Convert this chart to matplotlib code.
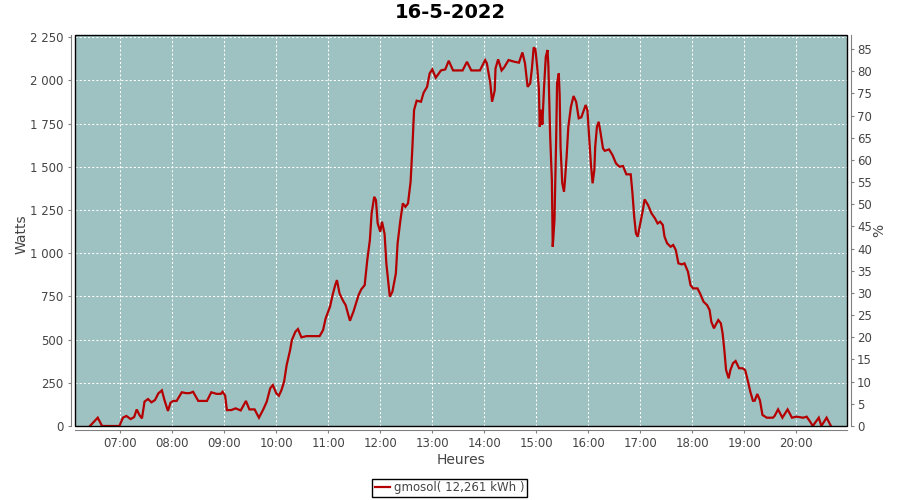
"""
Production solaire du 16-5-2022 (gmosol) — courbe Watts / % sur la journée
"""
import matplotlib
matplotlib.use('Agg')
import matplotlib.pyplot as plt
import matplotlib.patches as mpatches
from matplotlib.ticker import FixedLocator, FuncFormatter

plt.rcParams['font.family'] = ['DejaVu Sans']

BG     = '#9EC2C2'
RED    = '#B40000'
AXIS   = '#808080'
TXT    = '#444444'

# ── données (heure, puissance W) ─────────────────────────────
times = [
    '06:25', '06:34', '06:39', '06:59', '07:03', '07:07', '07:12', '07:16',
    '07:19', '07:22', '07:25', '07:28', '07:32', '07:36', '07:40', '07:44',
    '07:48', '07:51', '07:55', '07:58', '08:01', '08:05', '08:11', '08:16',
    '08:20', '08:24', '08:30', '08:40', '08:45', '08:51', '08:56', '08:58',
    '09:01', '09:03', '09:08', '09:13', '09:19', '09:25', '09:29', '09:35',
    '09:40', '09:45', '09:49', '09:53', '09:56', '10:00', '10:03', '10:06',
    '10:09', '10:12', '10:16', '10:18', '10:22', '10:25', '10:29', '10:35',
    '10:50', '10:54', '10:57', '11:02', '11:05', '11:08', '11:10', '11:13',
    '11:17', '11:20', '11:25', '11:29', '11:35', '11:38', '11:42', '11:45',
    '11:48', '11:50', '11:53', '11:55', '11:57', '12:00', '12:02', '12:05',
    '12:07', '12:11', '12:14', '12:18', '12:20', '12:23', '12:26', '12:29',
    '12:32', '12:35', '12:37', '12:39', '12:42', '12:47', '12:50', '12:54',
    '12:57', '13:00', '13:04', '13:10', '13:15', '13:19', '13:24', '13:35',
    '13:40', '13:45', '13:55', '14:01', '14:03', '14:07', '14:09', '14:12',
    '14:13', '14:16', '14:20', '14:23', '14:28', '14:35', '14:40', '14:44',
    '14:47', '14:50', '14:53', '14:55', '14:57', '14:59', '15:01', '15:03',
    '15:04', '15:06', '15:07', '15:09', '15:11', '15:13', '15:14', '15:16',
    '15:18', '15:19', '15:21', '15:23', '15:24', '15:26', '15:27', '15:28',
    '15:30', '15:32', '15:33', '15:35', '15:37', '15:40', '15:43', '15:46',
    '15:49', '15:52', '15:55', '15:57', '15:59', '16:01', '16:03', '16:05',
    '16:07', '16:08', '16:10', '16:12', '16:14', '16:17', '16:19', '16:24',
    '16:28', '16:32', '16:36', '16:40', '16:44', '16:49', '16:51', '16:53',
    '16:55', '16:57', '17:00', '17:03', '17:05', '17:09', '17:13', '17:17',
    '17:20', '17:23', '17:26', '17:28', '17:31', '17:35', '17:38', '17:41',
    '17:44', '17:48', '17:51', '17:55', '17:58', '18:01', '18:06', '18:09',
    '18:13', '18:17', '18:20', '18:22', '18:25', '18:27', '18:30', '18:33',
    '18:35', '18:37', '18:39', '18:42', '18:44', '18:47', '18:50', '18:54',
    '18:58', '19:01', '19:03', '19:07', '19:10', '19:12', '19:15', '19:18',
    '19:21', '19:26', '19:33', '19:35', '19:39', '19:44', '19:50', '19:55',
    '20:00', '20:08', '20:12', '20:16', '20:19', '20:26', '20:29', '20:35',
    '20:40',
]
watts = [
    0, 48, 0, 0, 48, 58, 40, 52,
    96, 64, 44, 141, 156, 137, 150, 189,
    206, 150, 87, 135, 145, 145, 195, 190,
    190, 198, 145, 145, 195, 186, 186, 198,
    176, 92, 92, 102, 90, 145, 96, 96,
    48, 96, 141, 218, 237, 189, 175, 208,
    256, 353, 440, 497, 545, 561, 513, 520,
    520, 555, 623, 690, 758, 815, 844, 767,
    725, 700, 609, 661, 758, 790, 815, 960,
    1076, 1230, 1326, 1307, 1172, 1124, 1182, 1110,
    941, 748, 777, 883, 1057, 1182, 1288, 1268,
    1288, 1413, 1606, 1828, 1882, 1876, 1928, 1962,
    2040, 2063, 2015, 2057, 2063, 2113, 2057, 2057,
    2107, 2057, 2057, 2117, 2098, 1982, 1876, 1940,
    2069, 2121, 2057, 2075, 2117, 2107, 2102, 2161,
    2098, 1962, 1982, 2069, 2190, 2180, 2080, 1953,
    1731, 1830, 1744, 1962, 2136, 2175, 2080, 1683,
    1423, 1037, 1191, 1673, 1982, 2040, 1913, 1615,
    1404, 1355, 1413, 1558, 1731, 1847, 1909, 1876,
    1780, 1786, 1828, 1857, 1828, 1673, 1519, 1404,
    1481, 1615, 1731, 1760, 1702, 1606, 1592, 1600,
    1567, 1519, 1500, 1504, 1456, 1456, 1346, 1211,
    1115, 1095, 1172, 1249, 1311, 1278, 1230, 1201,
    1172, 1182, 1163, 1095, 1057, 1037, 1047, 1018,
    941, 935, 941, 893, 815, 796, 796, 767,
    719, 700, 671, 603, 565, 585, 613, 594,
    536, 440, 324, 276, 324, 363, 376, 334,
    334, 324, 285, 198, 146, 146, 185, 150,
    64, 48, 48, 58, 96, 48, 96, 48,
    54, 48, 54, 25, 0, 48, 0, 48,
    0,
]

hour_ticks  = ['07:00', '08:00', '09:00', '10:00', '11:00', '12:00', '13:00',
               '14:00', '15:00', '16:00', '17:00', '18:00', '19:00', '20:00']
watt_ticks  = [0, 250, 500, 750, 1000, 1250, 1500, 1750, 2000, 2250]
pct_ticks   = list(range(0, 90, 5))
PEAK_W      = 2565          # puissance correspondant à 100 %
legend_txt  = 'gmosol( 12,261 kWh )'


def to_h(s):
    h, m = s.split(':')
    return int(h) + int(m) / 60


x = [to_h(t) for t in times]
xt = [to_h(t) for t in hour_ticks]

fig = plt.figure(figsize=(9, 5), dpi=100, facecolor='white')
ax = fig.add_axes([75.3 / 900, 1 - 426 / 500, 771.4 / 900, 391 / 500])
ax.set_facecolor(BG)

ax.plot(x, watts, color=RED, lw=1.6, zorder=3, solid_joinstyle='miter')

ax.set_xlim(6.135, 20.97)
ax.set_ylim(0, 2262)

# ── grille ───────────────────────────────────────────────────
ax.xaxis.set_major_locator(FixedLocator(xt))
ax.set_xticklabels(hour_ticks)
ax.yaxis.set_major_locator(FixedLocator(watt_ticks))
ax.yaxis.set_major_formatter(FuncFormatter(lambda v, p: f'{int(v):,}'.replace(',', ' ')))
ax.grid(True, color='white', lw=0.75, ls=(0, (2, 2)))
ax.set_axisbelow(True)

# ── axe droit (%) ────────────────────────────────────────────
ax2 = ax.twinx()
ax2.set_ylim(0, 2262 * 100 / PEAK_W)
ax2.yaxis.set_major_locator(FixedLocator(pct_ticks))

# ── spines décalés + cadre noir ──────────────────────────────
for a in (ax, ax2):
    for s in a.spines.values():
        s.set_visible(False)
for side in ('left', 'bottom'):
    ax.spines[side].set_visible(True)
    ax.spines[side].set_position(('outward', 3))
    ax.spines[side].set_color(AXIS)
ax2.spines['right'].set_visible(True)
ax2.spines['right'].set_position(('outward', 3))
ax2.spines['right'].set_color(AXIS)
ax.add_patch(mpatches.Rectangle((0, 0), 1, 1, transform=ax.transAxes, fill=False,
                                edgecolor='black', lw=1.0, zorder=5, clip_on=False))

ax.tick_params(axis='x', length=2, width=0.8, color=AXIS, labelsize=8.5,
               labelcolor=TXT, pad=3)
ax.tick_params(axis='y', length=2.5, width=0.8, color=AXIS, labelsize=8.5,
               labelcolor=TXT, pad=3)
ax2.tick_params(axis='y', length=2.5, width=0.8, color=AXIS, labelsize=8.5,
                labelcolor=TXT, pad=2)

# ── libellés ─────────────────────────────────────────────────
ax.set_xlabel('Heures', fontsize=10, color=TXT)
ax.xaxis.set_label_coords(0.5, -34 / 391)
ax.xaxis.label.set_va('center')
ax.set_ylabel('Watts', fontsize=10, color=TXT)
ax.yaxis.set_label_coords(-54 / 771.4, 0.49)
ax.yaxis.label.set_va('center')
ax2.set_ylabel('%', fontsize=10, color=TXT)
ax2.yaxis.set_label_coords(1 + 33 / 771.4, 0.5)
ax2.yaxis.label.set_va('center')

fig.suptitle('16-5-2022', x=0.5, y=1 - 13 / 500, va='center',
             fontsize=14, fontweight='bold', color='black')

# ── légende ──────────────────────────────────────────────────
fig.legend([plt.Line2D([], [], color=RED, lw=1.6)], [legend_txt],
           loc='center', bbox_to_anchor=(449.5 / 900, 1 - 488 / 500),
           fontsize=8.5, labelcolor=TXT, frameon=True, fancybox=False,
           edgecolor='black', framealpha=1, handlelength=1.3,
           handletextpad=0.3, borderpad=0.25, borderaxespad=0)
fig.legends[0].get_frame().set_linewidth(1.0)

fig.savefig('out.png', dpi=100, facecolor='white')
plt.close(fig)
